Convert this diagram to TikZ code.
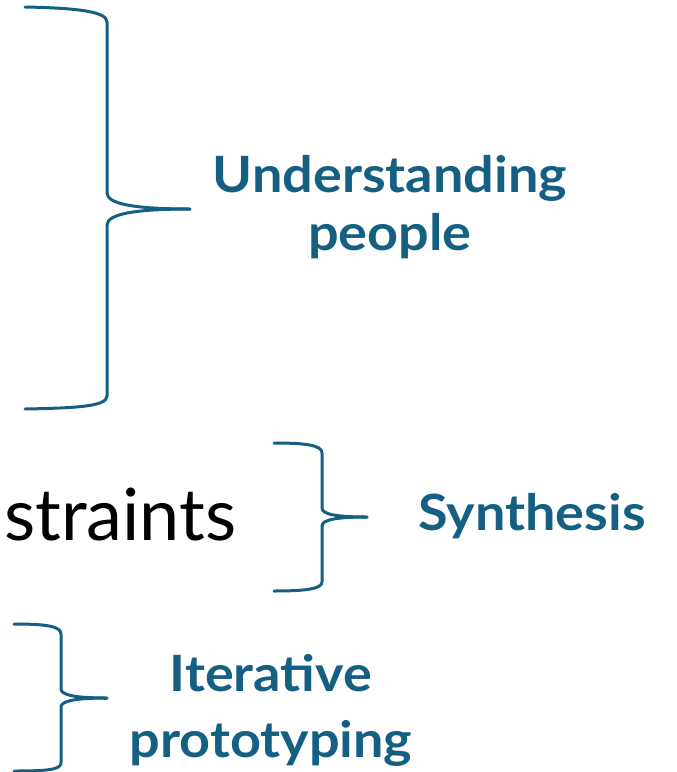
\documentclass[tikz,border=0pt]{standalone}
\usepackage{fontspec}
\setmainfont{Lato}
\newfontfamily\labelfont[FakeStretch=1.08]{Lato}
\definecolor{teal}{HTML}{156082}
\begin{document}
\begin{tikzpicture}[x=1pt,y=-1pt,
  brace/.style={draw=teal,line width=3pt,line cap=round,line join=round},
  label/.style={text=teal,font=\labelfont\fontsize{50}{58}\selectfont\bfseries,align=center,inner sep=0pt},
  plain/.style={text=black,font=\fontsize{72}{80}\selectfont,inner sep=0pt,anchor=base west}]
\useasboundingbox (0,0) rectangle (677,772);

% large brace
\draw[brace] (25,7) .. controls (80,8) and (107,12) .. (107,22) -- (107,193)
  .. controls (107,204) and (135,209) .. (190,209);
\draw[brace] (190,209) .. controls (135,209) and (107,214) .. (107,225) -- (107,396)
  .. controls (107,406) and (80,408) .. (25,409);

% middle brace
\draw[brace] (274,443) .. controls (305,443) and (322,445) .. (322,453) -- (322,508)
  .. controls (322,514) and (335,517) .. (367,517);
\draw[brace] (367,517) .. controls (335,517) and (322,520) .. (322,526) -- (322,582)
  .. controls (322,589) and (305,591) .. (274,591);

% lower brace
\draw[brace] (14,624) .. controls (45,624) and (61,626) .. (61,634) -- (61,689)
  .. controls (61,695) and (75,698) .. (107,698);
\draw[brace] (107,698) .. controls (75,698) and (61,701) .. (61,707) -- (61,763)
  .. controls (61,770) and (45,771) .. (14,771);

\node[plain] (cut) at (4,540) {straints};
\node[label,anchor=base] (under) at (390,250) {Understanding\\people};
\node[label,anchor=base] (synth) at (532,530) {Synthesis};
\node[label,anchor=base,font=\labelfont\fontsize{50}{66}\selectfont\bfseries] (iter) at (271,757) {Iterative\\prototyping};
\end{tikzpicture}
\end{document}
